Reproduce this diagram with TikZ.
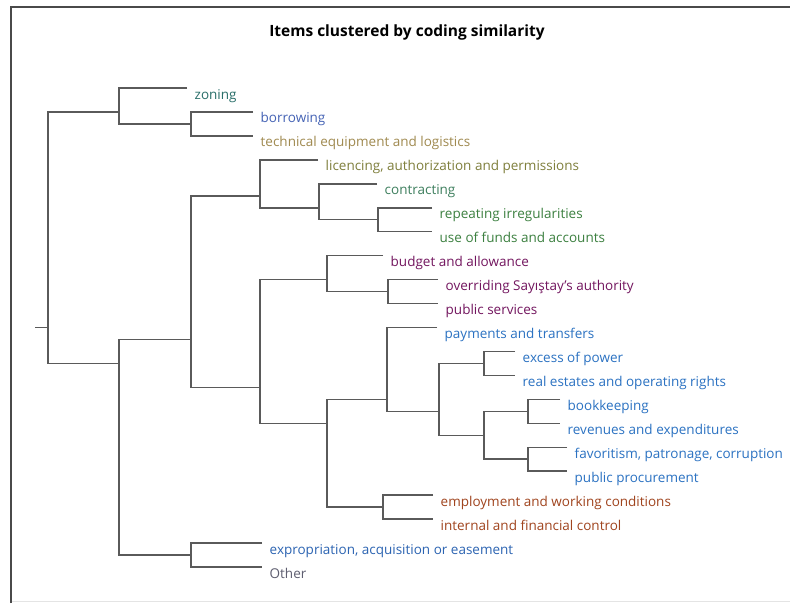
\documentclass[tikz,border=0pt]{standalone}
\usepackage{fontspec}
\setmainfont{Open Sans}
\definecolor{linkgray}{HTML}{5A5A5A}
\definecolor{framegray}{HTML}{4A4A4A}
\definecolor{edgegray}{HTML}{E4E4E4}
\definecolor{cteal}{HTML}{2A6F6A}
\definecolor{cborrow}{HTML}{4563B5}
\definecolor{ctan}{HTML}{A08A50}
\definecolor{colive}{HTML}{7F7F3C}
\definecolor{cgreenteal}{HTML}{3E7F5E}
\definecolor{cgreen}{HTML}{3C8040}
\definecolor{cpurple}{HTML}{73165F}
\definecolor{cblue}{HTML}{2B72C2}
\definecolor{cbrown}{HTML}{A0441E}
\definecolor{cexprop}{HTML}{2C64B2}
\definecolor{cother}{HTML}{5E5E70}
\begin{document}
\begin{tikzpicture}[x=1pt,y=-1pt,
  link/.style={draw=linkgray, line width=1.5pt},
  leaf/.style={anchor=base west, inner sep=0pt, xshift=7.5pt, yshift=-11pt,
               font=\fontsize{13.5}{15}\selectfont},
  heading/.style={font=\bfseries\fontsize{15.5}{18}\selectfont, inner sep=0pt}]
\useasboundingbox (0,0) rectangle (790,603);
\fill[white] (0,0) rectangle (790,603);

% window frame
\draw[framegray, line width=2pt] (11,603) -- (11,7) -- (790,7);
\draw[edgegray, line width=1pt] (12,601.5) -- (790,601.5);

\node[heading] (title) at (407,32) {Items clustered by coding similarity};

% leaf tips (row spacing 23.95)
\coordinate (t0)  at (187,88);
\coordinate (t1)  at (253,111.95);
\coordinate (t2)  at (253,135.9);
\coordinate (t3)  at (318,159.85);
\coordinate (t4)  at (377,183.8);
\coordinate (t5)  at (432,207.75);
\coordinate (t6)  at (432,231.7);
\coordinate (t7)  at (383,255.65);
\coordinate (t8)  at (438,279.6);
\coordinate (t9)  at (438,303.55);
\coordinate (t10) at (437,327.5);
\coordinate (t11) at (515,351.45);
\coordinate (t12) at (515,375.4);
\coordinate (t13) at (560,399.35);
\coordinate (t14) at (560,423.3);
\coordinate (t15) at (567,447.25);
\coordinate (t16) at (567,471.2);
\coordinate (t17) at (433,495.15);
\coordinate (t18) at (433,519.1);
\coordinate (t19) at (262,543.05);
\coordinate (t20) at (262,567);

% leaf labels
\node[leaf, text=cteal]      (n0)  at (t0)  {zoning};
\node[leaf, text=cborrow]    (n1)  at (t1)  {borrowing};
\node[leaf, text=ctan]       (n2)  at (t2)  {technical equipment and logistics};
\node[leaf, text=colive]     (n3)  at (t3)  {licencing, authorization and permissions};
\node[leaf, text=cgreenteal] (n4)  at (t4)  {contracting};
\node[leaf, text=cgreen]     (n5)  at (t5)  {repeating irregularities};
\node[leaf, text=cgreen]     (n6)  at (t6)  {use of funds and accounts};
\node[leaf, text=cpurple]    (n7)  at (t7)  {budget and allowance};
\node[leaf, text=cpurple]    (n8)  at (t8)  {overriding Sayıştay's authority};
\node[leaf, text=cpurple]    (n9)  at (t9)  {public services};
\node[leaf, text=cblue]      (n10) at (t10) {payments and transfers};
\node[leaf, text=cblue]      (n11) at (t11) {excess of power};
\node[leaf, text=cblue]      (n12) at (t12) {real estates and operating rights};
\node[leaf, text=cblue]      (n13) at (t13) {bookkeeping};
\node[leaf, text=cblue]      (n14) at (t14) {revenues and expenditures};
\node[leaf, text=cblue]      (n15) at (t15) {favoritism, patronage, corruption};
\node[leaf, text=cblue]      (n16) at (t16) {public procurement};
\node[leaf, text=cbrown]     (n17) at (t17) {employment and working conditions};
\node[leaf, text=cbrown]     (n18) at (t18) {internal and financial control};
\node[leaf, text=cexprop]    (n19) at (t19) {expropriation, acquisition or easement};
\node[leaf, text=cother]     (n20) at (t20) {Other};

% merge points
\coordinate (bt)   at (191,123.9);
\coordinate (a)    at (119,111.95);
\coordinate (h)    at (378,219.7);
\coordinate (g)    at (319,207.75);
\coordinate (e)    at (260,195.8);
\coordinate (k)    at (388,291.6);
\coordinate (i)    at (327,279.6);
\coordinate (o)    at (484,363.4);
\coordinate (q)    at (528,411.3);
\coordinate (r)    at (528,459.2);
\coordinate (p)    at (484,435.3);
\coordinate (n)    at (439,411.3);
\coordinate (l)    at (387,399.35);
\coordinate (m)    at (383,507.1);
\coordinate (j)    at (327,423.3);
\coordinate (f)    at (260,387.4);
\coordinate (c)    at (191,339.5);
\coordinate (d)    at (191,555);
\coordinate (b)    at (119,363.4);
\coordinate (root) at (48,327.5);
\coordinate (stub) at (35,327.5);

% dendrogram links
\draw[link] (t1) -| (bt) |- (t2);
\draw[link] (t0) -| (a) |- (bt);
\draw[link] (t5) -| (h) |- (t6);
\draw[link] (t4) -| (g) |- (h);
\draw[link] (t3) -| (e) |- (g);
\draw[link] (t8) -| (k) |- (t9);
\draw[link] (t7) -| (i) |- (k);
\draw[link] (t11) -| (o) |- (t12);
\draw[link] (t13) -| (q) |- (t14);
\draw[link] (t15) -| (r) |- (t16);
\draw[link] (q) -| (p) |- (r);
\draw[link] (o) -| (n) |- (p);
\draw[link] (t10) -| (l) |- (n);
\draw[link] (t17) -| (m) |- (t18);
\draw[link] (l) -| (j) |- (m);
\draw[link] (i) -| (f) |- (j);
\draw[link] (e) -| (c) |- (f);
\draw[link] (t19) -| (d) |- (t20);
\draw[link] (c) -| (b) |- (d);
\draw[link] (a) -| (root) |- (b);
\draw[link] (stub) -- (root);
\end{tikzpicture}
\end{document}
